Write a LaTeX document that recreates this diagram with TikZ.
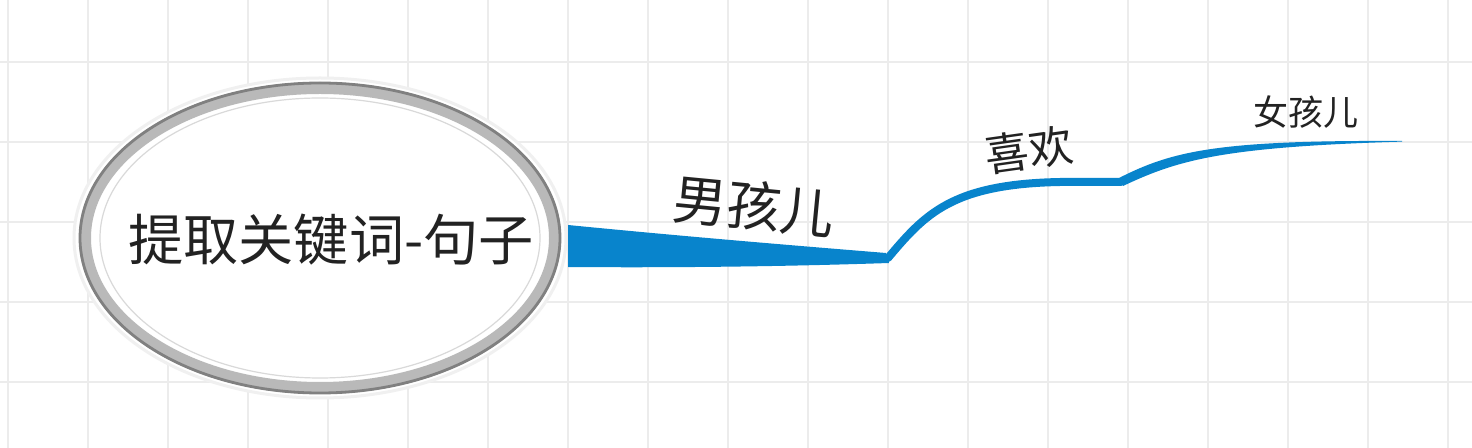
\documentclass[tikz,border=0pt]{standalone}
\usepackage{fontspec}
\newfontfamily\cjk{Noto Sans CJK SC}
\definecolor{branchblue}{RGB}{8,132,204}
\definecolor{gridgray}{RGB}{236,236,236}
\definecolor{inkgray}{RGB}{34,34,34}
\begin{document}
\begin{tikzpicture}[line cap=round,line join=round,x=0.5pt,y=-0.5pt,
  gridline/.style={gridgray,line width=1pt},
  branch/.style={fill=branchblue,draw=none},
  lbl/.style={inner sep=0pt,text=inkgray,font=\cjk}]
\useasboundingbox (0,0) rectangle (1472,448);
\fill[white] (0,0) rectangle (1472,448);
\foreach \gx in {8,88,...,1448} \draw[gridline] (\gx,0)--(\gx,448);
\foreach \gy in {62,142,...,382} \draw[gridline] (0,\gy)--(1472,\gy);
% central topic
\fill[white] (320,238) ellipse [x radius=245,y radius=159];
\draw[gray!12,line width=1.5pt] (320,238) ellipse [x radius=246,y radius=160];
\draw[gray!55,line width=6pt] (320,238) ellipse [x radius=235,y radius=150];
\draw[black!50,line width=1.4pt] (320,238) ellipse [x radius=240,y radius=155];
\draw[gray!30,line width=0.6pt] (320,238) ellipse [x radius=220,y radius=140];
\node[lbl,font=\cjk\fontsize{27.6pt}{28pt}\selectfont] (root) at (331,240) {提取关键词-句子};
\coordinate (hub) at (568,246);
\coordinate (k1) at (888,258);
\coordinate (k2) at (1121,182);
\coordinate (k3) at (1402,141);
% branches
\fill[branch] (568,225) .. controls (690,237) and (800,246) .. (886,253)
  -- (889,263) .. controls (800,266) and (690,268) .. (568,267) -- cycle;
\draw[branchblue,line width=4pt] (k1) .. controls (925,214) and (952,184) .. (1060,182) -- (k2);
\fill[branch] (1119,178) .. controls (1172,151) and (1218,140) .. (k3)
  -- (1402,141.6) .. controls (1222,147) and (1178,160) .. (1123,186) -- cycle;
\node[lbl,font=\cjk\fontsize{27pt}{27pt}\selectfont,rotate=-5.5] (boy) at (754,206) {男孩儿};
\node[lbl,font=\cjk\fontsize{22pt}{22pt}\selectfont,rotate=8] (like) at (1029,150) {喜欢};
\node[lbl,font=\cjk\fontsize{17.5pt}{17.5pt}\selectfont] (girl) at (1306,112) {女孩儿};
\end{tikzpicture}
\end{document}
